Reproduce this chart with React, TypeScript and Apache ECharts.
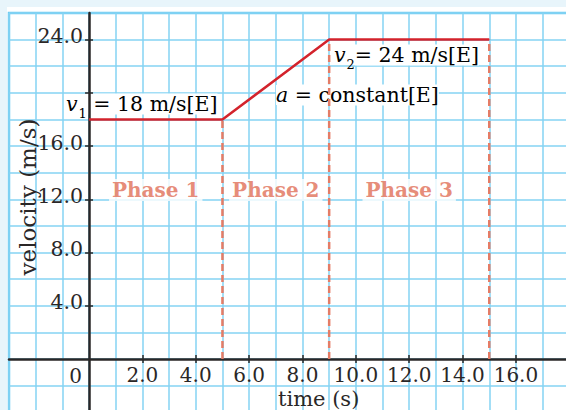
import React, { useEffect, useRef } from "react";
import * as echarts from "echarts";

// ---- data ----
const TIMES = [0, 5, 9, 15];
const VELOCITIES = [18, 18, 24, 24];
const PHASE_NAMES = ["Phase 1", "Phase 2", "Phase 3"];
const X_TICKS = [2, 4, 6, 8, 10, 12, 14, 16];
const Y_TICKS = [4, 8, 12, 16, 20, 24];
const Y_LABELS = [4, 8, 12, 16, 24];

const FONT = "DejaVu Serif";
const INK = "#2a2727";
const GRID_C = "#84d3f3";
const BORDER_C = "#6dcbf1";
const RED = "#d3232c";
const SALMON = "#df6e56";
const DASH = "#e47c66";

// chart frame (chart div is 559 x 403, placed at 7,7 in the page)
const W = 559;
const H = 403;
const G_LEFT = 2;
const G_TOP = 6;
const G_RIGHT = -3.3;
const G_BOTTOM = -2.3;
const X_MIN = -3;
const X_MAX = 18;
const Y_MIN = -4;
const Y_MAX = 26;

export default function App() {
  const ref = useRef<HTMLDivElement>(null);
  useEffect(() => {
    document.body.style.margin = "0";
    const chart = echarts.init(ref.current!, null, { renderer: "svg" });
    const xBase = { type: "value", min: X_MIN, max: X_MAX, interval: 1 };
    const yBase = { type: "value", min: Y_MIN, max: Y_MAX, interval: 2 };
    const fmt = (v: number) => v.toFixed(1);

    const gw = W - G_LEFT - G_RIGHT;
    const gh = H - G_TOP - G_BOTTOM;
    // move the axes from the grid edges onto the zero lines
    const yAxisOffset = -((0 - X_MIN) / (X_MAX - X_MIN)) * gw;
    const xAxisOffset = -((0 - Y_MIN) / (Y_MAX - Y_MIN)) * gh;

    const boundarySeries = [1, 2, 3].map((i) => ({
      type: "line",
      xAxisIndex: 1,
      yAxisIndex: 1,
      z: 3,
      symbol: "none",
      silent: true,
      lineStyle: { color: DASH, width: 2.5, type: [7, 4] },
      data: [
        [TIMES[i], 0],
        [TIMES[i], VELOCITIES[i]],
      ],
    }));

    const FS = 20.5;
    const mainRich = {
      v: { fontFamily: FONT, fontStyle: "italic", fontSize: FS, lineHeight: 20, color: INK, backgroundColor: "#fff" },
      s: { fontFamily: FONT, fontSize: 13, lineHeight: 13, padding: [18, 0, 0, 1], color: INK },
      t: { fontFamily: FONT, fontSize: FS, lineHeight: 20, color: INK, backgroundColor: "#fff" },
    };

    const option: any = {
      animation: false,
      grid: {
        left: G_LEFT,
        top: G_TOP,
        right: G_RIGHT,
        bottom: G_BOTTOM,
        containLabel: false,
        outerBoundsMode: "none",
        show: true,
        borderColor: BORDER_C,
        borderWidth: 2.5,
        backgroundColor: "transparent",
      },
      xAxis: [
        {
          ...xBase,
          position: "bottom",
          z: 0,
          axisLine: { show: false, onZero: false },
          axisTick: { show: false },
          axisLabel: { show: false },
          splitLine: { show: true, lineStyle: { color: GRID_C, width: 1.5 } },
        },
        {
          ...xBase,
          position: "bottom",
          offset: xAxisOffset,
          z: 3,
          axisLine: { show: true, onZero: false, lineStyle: { color: INK, width: 2.5 } },
          axisTick: { show: true, customValues: X_TICKS, length: 4, inside: false, lineStyle: { color: INK, width: 1.5 } },
          axisLabel: { show: true, customValues: X_TICKS, formatter: fmt, fontFamily: FONT, fontSize: 20, color: INK, margin: 6 },
          splitLine: { show: false },
        },
        {
          ...xBase,
          position: "bottom",
          offset: xAxisOffset,
          z: 3,
          axisLine: { show: false, onZero: false },
          axisTick: { show: true, customValues: X_TICKS, length: 4, inside: true, lineStyle: { color: INK, width: 1.5 } },
          axisLabel: { show: false },
          splitLine: { show: false },
        },
      ],
      yAxis: [
        {
          ...yBase,
          position: "left",
          z: 0,
          axisLine: { show: false, onZero: false },
          axisTick: { show: false },
          axisLabel: { show: false },
          splitLine: { show: true, lineStyle: { color: GRID_C, width: 1.5 } },
        },
        {
          ...yBase,
          position: "left",
          offset: yAxisOffset,
          z: 3,
          axisLine: { show: true, onZero: false, lineStyle: { color: INK, width: 2.5 } },
          axisTick: { show: true, customValues: Y_TICKS, length: 4, inside: false, lineStyle: { color: INK, width: 1.5 } },
          axisLabel: {
            show: true,
            customValues: Y_LABELS,
            formatter: fmt,
            fontFamily: FONT,
            fontSize: 20.5,
            color: INK,
            margin: 6,
            verticalAlign: "bottom",
            lineHeight: 7,
          },
          splitLine: { show: false },
        },
        {
          ...yBase,
          position: "left",
          offset: yAxisOffset,
          z: 3,
          axisLine: { show: false, onZero: false },
          axisTick: { show: true, customValues: Y_TICKS, length: 4, inside: true, lineStyle: { color: INK, width: 1.5 } },
          axisLabel: { show: false },
          splitLine: { show: false },
        },
      ],
      series: [
        {
          type: "scatter",
          xAxisIndex: 1,
          yAxisIndex: 1,
          z: 1,
          symbolSize: 0,
          silent: true,
          data: PHASE_NAMES.map((n, i) => ({ name: n, value: [(TIMES[i] + TIMES[i + 1]) / 2, 12.7] })),
          label: {
            show: true,
            position: "inside",
            formatter: "{b}",
            fontFamily: FONT,
            fontWeight: "bold",
            fontSize: 20,
            color: SALMON,
            backgroundColor: "#fff",
            padding: [1, 3],
          },
        },
        ...boundarySeries,
        {
          type: "line",
          xAxisIndex: 1,
          yAxisIndex: 1,
          z: 4,
          symbol: "none",
          silent: true,
          lineStyle: { color: RED, width: 2.5 },
          data: TIMES.map((t, i) => [t, VELOCITIES[i]]),
        },
      ],
      graphic: [
        {
          type: "text",
          z: 1,
          x: 59,
          y: 97,
          silent: true,
          style: { text: "{v|v}{s|1}{t| = 18 m/s[E]}", rich: mainRich, align: "left", verticalAlign: "middle", font: `${FS}px "${FONT}"` },
        },
        {
          type: "text",
          z: 1,
          x: 327,
          y: 48,
          silent: true,
          style: { text: "{v|v}{s|2}{t|= 24 m/s[E]}", rich: mainRich, align: "left", verticalAlign: "middle", font: `${FS}px "${FONT}"` },
        },
        {
          type: "text",
          z: 1,
          x: 269,
          y: 88,
          silent: true,
          style: { text: "{v|a}{t| = constant[E]}", rich: mainRich, align: "left", verticalAlign: "middle", font: `${FS}px "${FONT}"` },
        },
        {
          type: "text",
          z: 3,
          x: 75,
          y: 369,
          silent: true,
          style: { text: "0", fill: INK, font: `20px "${FONT}"`, align: "right", verticalAlign: "middle" },
        },
        {
          type: "text",
          z: 3,
          x: 271,
          y: 392,
          silent: true,
          style: { text: "time (s)", fill: INK, font: `21px "${FONT}"`, align: "left", verticalAlign: "middle" },
        },
        {
          type: "text",
          z: 3,
          x: 20.5,
          y: 190,
          rotation: Math.PI / 2,
          silent: true,
          style: { text: "velocity (m/s)", fill: INK, font: `23px "${FONT}"`, align: "center", verticalAlign: "middle" },
        },
      ],
    };
    chart.setOption(option);
    return () => chart.dispose();
  }, []);

  return (
    <div style={{ position: "relative", width: 566, height: 410, background: "#e8f5fb", overflow: "hidden" }}>
      <div
        ref={ref}
        style={{ position: "absolute", left: 7, top: 7, width: W, height: H, background: "#ffffff" }}
      />
    </div>
  );
}
